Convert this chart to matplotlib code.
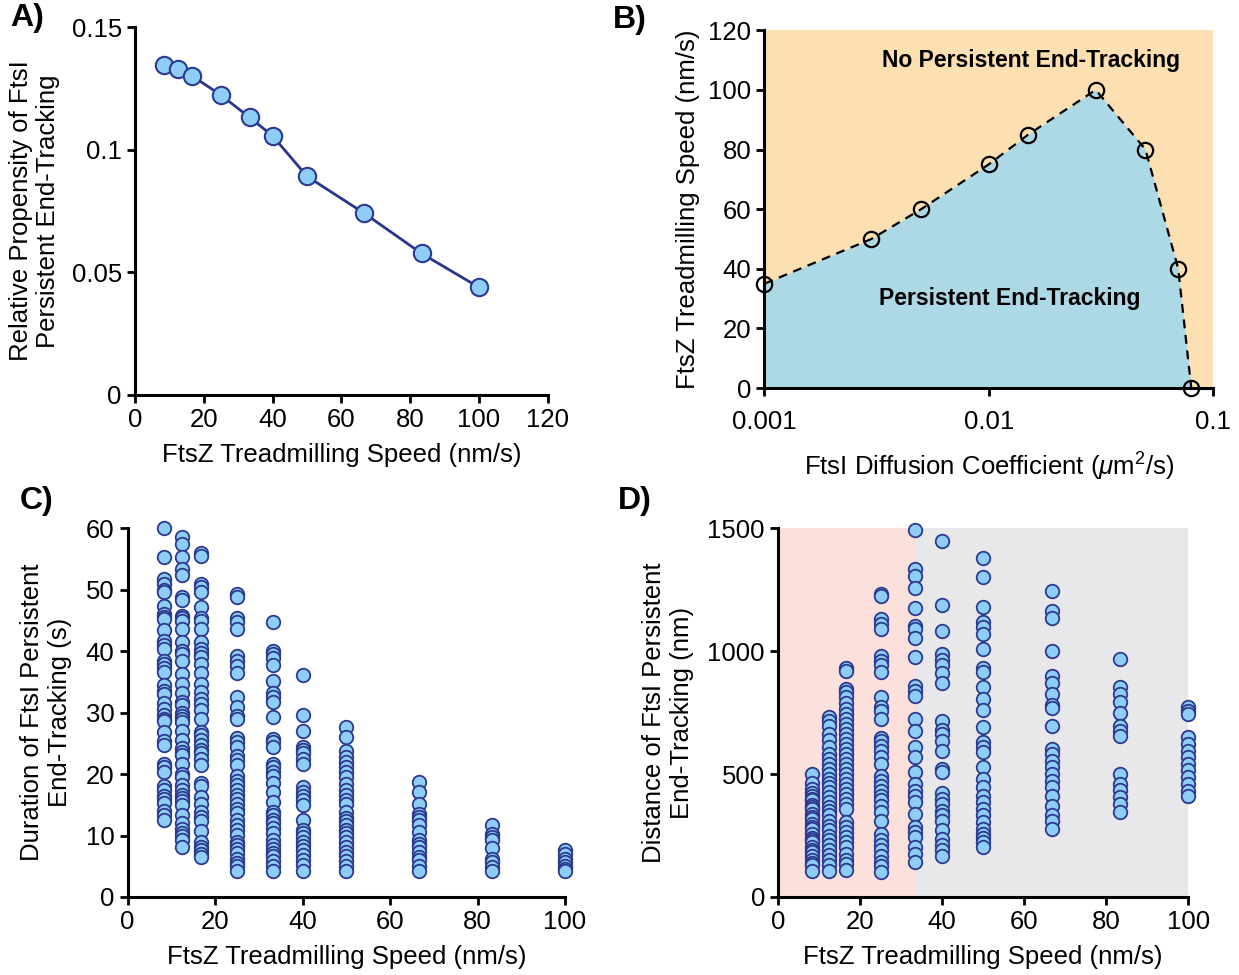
import matplotlib
matplotlib.use("Agg")
import matplotlib.pyplot as plt
import numpy as np

plt.rcParams['font.family'] = ['Liberation Sans', 'DejaVu Sans']
plt.rcParams['mathtext.fontset'] = 'custom'
plt.rcParams['mathtext.rm'] = 'Liberation Sans'
plt.rcParams['mathtext.it'] = 'Liberation Sans:italic'

# ---- data ----
speeds = [8.33, 12.5, 16.67, 25, 33.33, 40, 50, 66.67, 83.33, 100]

# A) relative propensity
propensity = [0.1345, 0.1328, 0.1301, 0.1223, 0.1132, 0.1057, 0.0892, 0.0741, 0.0577, 0.0439]

# B) phase boundary
diff_coef = [0.001, 0.003, 0.005, 0.01, 0.015, 0.03, 0.05, 0.07, 0.08]
boundary_speed = [35, 50, 60, 75, 85, 100, 80, 40, 0]

# C) durations (s) per speed
dur_8 = [60.0, 55.4, 51.7, 51.0, 50.0, 49.6, 47.3, 46.0, 45.6, 45.2, 43.5, 41.6, 41.0, 40.4, 38.4, 38.0,
         37.2, 36.6, 34.5, 33.5, 33.1, 31.6, 30.6, 29.6, 29.0, 28.6, 26.9, 25.4, 24.7, 21.7, 21.2, 20.4,
         18.0, 17.4, 16.4, 16.0, 15.3, 14.0, 13.4, 12.6]
dur_12 = [58.6, 57.5, 55.4, 53.4, 52.5, 48.9, 48.3, 45.7, 45.4, 45.0, 43.6, 41.5, 40.0, 39.6, 38.5, 36.3,
          34.6, 33.2, 31.7, 31.3, 30.0, 29.5, 28.9, 28.5, 27.1, 25.5, 24.2, 23.6, 23.1, 21.7, 20.0, 19.6,
          18.2, 17.5, 16.6, 16.1, 15.6, 15.0, 13.4, 12.0, 11.0, 10.5, 10.0, 9.2, 8.2]
dur_17 = [56.0, 55.5, 50.9, 50.5, 49.7, 47.2, 45.4, 44.9, 43.6, 41.5, 40.4, 39.8, 39.0, 37.9, 36.4, 34.6,
          33.4, 32.3, 31.5, 30.4, 28.9, 26.9, 26.3, 25.5, 24.7, 24.0, 23.4, 22.5, 21.5, 18.5, 18.1, 16.3,
          15.2, 13.9, 13.1, 12.3, 10.8, 9.0, 8.2, 7.6, 7.0, 6.5]
dur_25 = [49.3, 48.9, 45.4, 44.7, 43.6, 39.3, 38.5, 37.6, 36.4, 32.6, 31.0, 29.4, 28.9, 25.9, 25.2, 24.4,
          22.9, 22.3, 21.5, 19.7, 18.9, 18.2, 17.4, 16.6, 15.9, 15.1, 14.4, 13.6, 12.6, 11.7, 10.9, 10.1,
          9.0, 8.5, 7.8, 7.1, 6.2, 5.5, 5.0, 4.2]
dur_33 = [44.7, 40.1, 39.5, 38.9, 37.7, 35.2, 33.2, 32.5, 31.7, 29.3, 25.8, 25.2, 24.4, 21.7, 21.2, 20.4,
          19.7, 18.5, 17.1, 15.4, 13.9, 13.4, 12.6, 12.0, 11.2, 10.4, 9.3, 8.5, 7.8, 7.2, 6.6, 5.8, 5.0, 4.2]
dur_40 = [36.2, 29.7, 27.1, 24.5, 24.0, 23.4, 22.5, 21.7, 17.9, 17.1, 16.4, 15.8, 15.0, 12.6, 10.9, 10.4,
          9.7, 9.0, 8.3, 7.7, 6.9, 6.1, 5.2, 4.2]
dur_50 = [27.7, 26.1, 23.8, 22.8, 22.0, 21.2, 20.4, 19.6, 18.4, 17.4, 16.6, 15.8, 15.2, 13.9, 12.8, 12.3,
          11.7, 10.9, 10.4, 9.7, 9.0, 8.2, 7.4, 6.6, 5.8, 5.0, 4.2]
dur_67 = [18.7, 17.1, 15.2, 13.5, 13.0, 12.5, 11.7, 10.6, 9.2, 8.7, 8.1, 7.3, 6.5, 6.0, 5.1, 4.2]
dur_83 = [11.7, 10.3, 9.8, 9.2, 7.9, 6.2, 5.7, 4.9, 4.2]
dur_100 = [7.6, 7.0, 6.2, 5.7, 5.1, 4.6, 4.2]

# D) distances (nm) per speed
dist_8 = [501, 463, 440, 425, 413, 400, 393, 376, 365, 359, 338, 325, 318, 298, 285, 278, 257, 241, 230,
          223, 203, 190, 183, 165, 149, 140, 129, 106]
dist_12 = [734, 717, 697, 663, 639, 609, 582, 562, 541, 521, 501, 481, 463, 447, 426, 406, 386, 368, 352,
           332, 311, 291, 271, 250, 230, 210, 190, 169, 149, 129, 106]
dist_17 = [934, 920, 846, 833, 812, 788, 765, 745, 724, 704, 684, 663, 643, 623, 602, 582, 562, 541, 521,
           501, 481, 460, 440, 420, 399, 379, 359, 305, 284, 264, 244, 223, 203, 176, 149, 135, 111]
dist_25 = [1232, 1225, 1130, 1110, 1090, 981, 961, 945, 914, 815, 772, 758, 724, 647, 636, 616, 593, 571,
           541, 494, 474, 453, 433, 413, 393, 372, 345, 311, 257, 230, 210, 190, 165, 142, 125, 102]
dist_33 = [1492, 1333, 1306, 1256, 1175, 1103, 1090, 1056, 977, 860, 839, 819, 724, 677, 609, 569, 508,
           460, 433, 413, 386, 338, 284, 264, 244, 203, 176, 142]
dist_40 = [1448, 1189, 1083, 991, 964, 945, 910, 869, 715, 680, 663, 636, 596, 521, 508, 422, 399, 379,
           352, 332, 311, 271, 237, 210, 190, 165]
dist_50 = [1378, 1302, 1180, 1121, 1099, 1069, 1009, 934, 914, 853, 806, 761, 690, 629, 612, 589, 531,
           481, 447, 413, 386, 359, 332, 305, 278, 257, 241, 223, 203]
dist_67 = [1245, 1164, 1137, 1002, 900, 869, 828, 782, 769, 697, 602, 582, 555, 528, 501, 474, 447, 413,
           372, 332, 311, 278]
dist_83 = [968, 853, 826, 792, 747, 697, 677, 657, 501, 460, 436, 409, 379, 345]
dist_100 = [772, 758, 745, 650, 623, 596, 569, 542, 515, 487, 460, 433, 413]

durations = [dur_8, dur_12, dur_17, dur_25, dur_33, dur_40, dur_50, dur_67, dur_83, dur_100]
distances = [dist_8, dist_12, dist_17, dist_25, dist_33, dist_40, dist_50, dist_67, dist_83, dist_100]

# ---- style ----
fs = 18.5
face = "#8ecdf5"
edge = "#2b3990"
line_c = "#2a3590"


def style_axes(ax):
    for s in ["top", "right"]:
        ax.spines[s].set_visible(False)
    for s in ["left", "bottom"]:
        ax.spines[s].set_linewidth(2.2)
    ax.tick_params(width=2, length=6, labelsize=fs, direction="out")


fig = plt.figure(figsize=(12.39, 9.75), dpi=100)
axA = fig.add_axes([0.109, 0.595, 0.333, 0.377])
axB = fig.add_axes([0.617, 0.602, 0.362, 0.367])
axC = fig.add_axes([0.103, 0.080, 0.353, 0.378])
axD = fig.add_axes([0.628, 0.080, 0.331, 0.378])

# A
axA.plot(speeds, propensity, color=line_c, lw=2, zorder=1)
axA.plot(speeds, propensity, "o", ms=12.5, mfc=face, mec=edge, mew=1.5, zorder=2, clip_on=False)
axA.set_xlim(0, 120)
axA.set_ylim(0, 0.15)
axA.set_xticks([0, 20, 40, 60, 80, 100, 120])
axA.set_yticks([0, 0.05, 0.1, 0.15])
axA.set_yticklabels(["0", "0.05", "0.1", "0.15"])
style_axes(axA)
axA.set_xlabel("FtsZ Treadmilling Speed (nm/s)", fontsize=fs, labelpad=8)
axA.set_ylabel("Relative Propensity of FtsI\nPersistent End-Tracking", fontsize=fs, labelpad=8)

# B
axB.set_facecolor("#fde0b1")
axB.set_xscale("log")
axB.fill_between(diff_coef, boundary_speed, 0, color="#add8e6", lw=0, zorder=0)
axB.plot(diff_coef, boundary_speed, "--", color="black", lw=1.6, dashes=(4, 3), zorder=1)
axB.plot(diff_coef, boundary_speed, "o", ms=11, mfc="none", mec="black", mew=1.6, zorder=2, clip_on=False)
axB.set_xlim(0.001, 0.1)
axB.set_ylim(0, 120)
axB.set_xticks([0.001, 0.01, 0.1])
axB.set_xticklabels(["0.001", "0.01", "0.1"])
axB.xaxis.set_minor_locator(matplotlib.ticker.NullLocator())
axB.set_yticks([0, 20, 40, 60, 80, 100, 120])
style_axes(axB)
axB.tick_params(axis="x", pad=10)
axB.text(0.0713, 110, "No Persistent End-Tracking", ha="right", va="center", fontsize=16.5, fontweight="bold")
axB.text(0.0124, 30, "Persistent End-Tracking", ha="center", va="center", fontsize=16.5, fontweight="bold")
axB.set_xlabel(r"FtsI Diffusion Coefficient ($\mu$m$^2$/s)", fontsize=fs, labelpad=12)
axB.set_ylabel("FtsZ Treadmilling Speed (nm/s)", fontsize=fs, labelpad=6)

# C
for sp, vals in zip(speeds, durations):
    axC.scatter([sp] * len(vals), vals, s=95, c=face, edgecolors=edge, linewidths=1.3, zorder=2, clip_on=False)
axC.set_xlim(0, 100)
axC.set_ylim(0, 60)
axC.set_xticks([0, 20, 40, 60, 80, 100])
axC.set_yticks([0, 10, 20, 30, 40, 50, 60])
style_axes(axC)
axC.set_xlabel("FtsZ Treadmilling Speed (nm/s)", fontsize=fs, labelpad=8)
axC.set_ylabel("Duration of FtsI Persistent\nEnd-Tracking (s)", fontsize=fs, labelpad=10)

# D
axD.axvspan(0, 33.33, color="#fbe0dc", lw=0, zorder=0)
axD.axvspan(33.33, 100, color="#e8e8ea", lw=0, zorder=0)
for sp, vals in zip(speeds, distances):
    axD.scatter([sp] * len(vals), vals, s=95, c=face, edgecolors=edge, linewidths=1.3, zorder=2, clip_on=False)
axD.set_xlim(0, 100)
axD.set_ylim(0, 1500)
axD.set_xticks([0, 20, 40, 60, 80, 100])
axD.set_yticks([0, 500, 1000, 1500])
style_axes(axD)
axD.set_xlabel("FtsZ Treadmilling Speed (nm/s)", fontsize=fs, labelpad=8)
axD.set_ylabel("Distance of FtsI Persistent\nEnd-Tracking (nm)", fontsize=fs, labelpad=10)

# panel letters
for lab, x, y in [("A)", 0.008, 0.997), ("B)", 0.495, 0.995), ("C)", 0.016, 0.502), ("D)", 0.499, 0.502)]:
    fig.text(x, y, lab, fontsize=23, fontweight="bold", ha="left", va="top")

fig.savefig("out.png", dpi=100)
